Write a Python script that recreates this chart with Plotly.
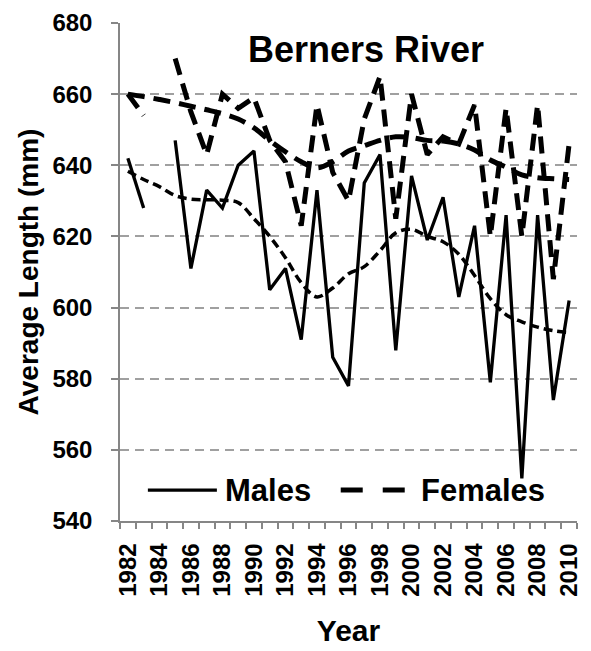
import plotly.graph_objects as go

# Berners River: average length (mm) of males and females by return year
years = list(range(1982, 2011))
males = [642, 628, None, 647, 611, 633, 628, 640, 644, 605, 611, 591, 633, 586, 578,
         635, 643, 588, 637, 619, 631, 603, 623, 579, 626, 552, 626, 574, 602]
females = [660, 654, None, 670, 655, 643, 660, 656, 659, 647, 641, 623, 657, 638, 630,
           653, 665, 625, 660, 643, 648, 646, 657, 620, 656, 620, 657, 608, 646]
# smoothed trend curves for each sex
male_trend = [638.3, 636, 634, 631.5, 630.5, 630.3, 630.2, 629.5, 625, 620, 614, 607,
              603, 605.5, 609.5, 611.5, 616, 621, 622, 620, 618.5, 615, 609, 602.5,
              598, 596, 594.5, 593.5, 593]
female_trend = [660, 659.3, 658.5, 657.6, 656.6, 655.6, 654.5, 653, 650.5, 647, 643.8,
                641, 639.3, 641, 644, 645.5, 647, 648, 647.8, 647, 646.8, 646, 644.3,
                641.5, 639.5, 637.3, 636.5, 636.2, 636]
tick_years = years[::2]
tick_labels = [str(y) for y in tick_years]

FONT = "Liberation Sans, Arial, sans-serif"
AXIS_GRAY = "#868686"
GRID_GRAY = "#a0a0a0"
FEMALE_DASH = "17px,9px"

fig = go.Figure()
fig.add_trace(go.Scatter(x=years, y=male_trend, mode="lines", line_shape="spline",
                         line=dict(color="black", width=3.5, dash="9px,5px"),
                         showlegend=False, hoverinfo="skip"))
fig.add_trace(go.Scatter(x=years, y=female_trend, mode="lines", line_shape="spline",
                         line=dict(color="black", width=5, dash=FEMALE_DASH),
                         showlegend=False, hoverinfo="skip"))
fig.add_trace(go.Scatter(x=years, y=males, mode="lines", name="Males",
                         connectgaps=False,
                         line=dict(color="black", width=3.3)))
fig.add_trace(go.Scatter(x=years, y=females, mode="lines", name="Females",
                         connectgaps=False,
                         line=dict(color="black", width=5, dash=FEMALE_DASH)))

# legend drawn inside the plot area along the bottom
leg_y = 0.062
fig.add_shape(type="line", xref="paper", yref="paper", x0=0.061, x1=0.212,
              y0=leg_y, y1=leg_y, line=dict(color="black", width=3.3))
fig.add_shape(type="line", xref="paper", yref="paper", x0=0.483, x1=0.634,
              y0=leg_y, y1=leg_y, line=dict(color="black", width=5, dash="22px,20px"))
fig.add_annotation(xref="paper", yref="paper", x=0.225, y=leg_y, text="Males",
                   showarrow=False, xanchor="left", yanchor="middle",
                   font=dict(family=FONT, size=31, color="black", weight="bold"))
fig.add_annotation(xref="paper", yref="paper", x=0.654, y=leg_y, text="Females",
                   showarrow=False, xanchor="left", yanchor="middle",
                   font=dict(family=FONT, size=31, color="black", weight="bold"))

# chart title inside the plot
fig.add_annotation(xref="paper", yref="paper", x=0.539, y=0.947, text="Berners River",
                   showarrow=False, xanchor="center", yanchor="middle",
                   font=dict(family=FONT, size=36, color="black", weight="bold"))

fig.update_layout(
    width=591, height=651,
    margin=dict(l=120, r=9, t=20, b=127),
    plot_bgcolor="white", paper_bgcolor="white",
    showlegend=False,
    font=dict(family=FONT, color="black"),
    xaxis=dict(
        range=[1981.5, 2010.5],
        tickmode="array", tickvals=tick_years, ticktext=tick_labels,
        tickangle=-90, ticks="", ticklabelstandoff=11,
        tickfont=dict(family=FONT, size=24, color="black", weight="bold"),
        minor=dict(ticks="outside", ticklen=6, tickwidth=1.5, tickcolor=AXIS_GRAY,
                   tick0=1981.5, dtick=1, showgrid=False),
        showline=True, linecolor=AXIS_GRAY, linewidth=1.5,
        showgrid=False, zeroline=False,
        title=dict(text="Year", standoff=24,
                   font=dict(family=FONT, size=30, color="black", weight="bold")),
    ),
    yaxis=dict(
        range=[540, 680], tickmode="linear", tick0=540, dtick=20,
        ticks="outside", ticklen=7, tickwidth=1.5, tickcolor=AXIS_GRAY,
        ticklabelstandoff=14,
        tickfont=dict(family=FONT, size=24, color="black", weight="bold"),
        showline=True, linecolor=AXIS_GRAY, linewidth=1.5,
        showgrid=True, gridcolor=GRID_GRAY, gridwidth=1.5, griddash="9px,6px",
        zeroline=False,
        title=dict(text="Average Length (mm)", standoff=6,
                   font=dict(family=FONT, size=28, color="black", weight="bold")),
    ),
)

fig.write_html("out.html")
